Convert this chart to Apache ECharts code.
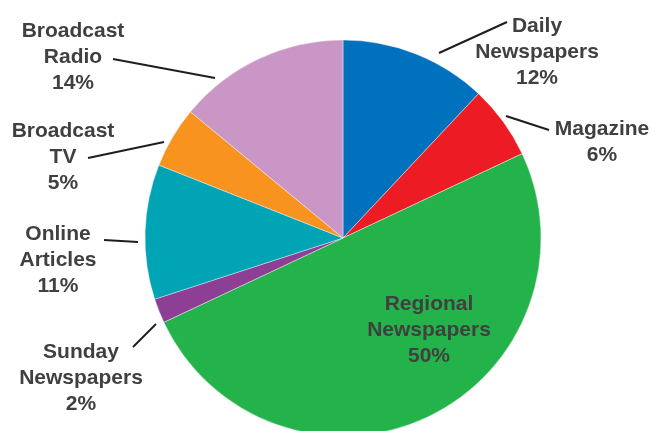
<!DOCTYPE html>
<html>
<head>
<meta charset="utf-8">
<script src="https://cdn.jsdelivr.net/npm/echarts@6/dist/echarts.min.js"></script>
<style>
  html, body { margin: 0; padding: 0; background: #fff; }
  #chart { width: 655px; height: 431px; }
</style>
</head>
<body>
<div id="chart"></div>
<script>
// media share, clockwise from 12 o'clock
const mediaNames = ['Daily\nNewspapers', 'Magazine', 'Regional\nNewspapers', 'Sunday\nNewspapers',
  'Online\nArticles', 'Broadcast\nTV', 'Broadcast\nRadio'];
const mediaShare = [12, 6, 50, 2, 11, 5, 14];
const sliceColors = ['#0071bc', '#ed1c24', '#24b24b', '#8c3f95', '#00a4b4', '#f7931e', '#c996c5'];

// label placement (pixel centre of each text block) and leader lines
const labelCenters = [[537, 52], [602, 142], [429, 330], [81, 378], [58, 260], [63, 157], [73, 57]];
const leaderLines = [
  [[439, 53], [507, 22]],
  [[506, 116], [549, 130]],
  null,
  [[156, 324], [133, 347]],
  [[138, 242], [104, 240]],
  [[164, 142], [88, 158]],
  [[215, 78], [113, 59]]
];

const chart = echarts.init(document.getElementById('chart'));

chart.setOption({
  backgroundColor: '#fff',
  animation: false,
  series: [
    {
      type: 'pie',
      center: [343, 238],
      radius: 198,
      startAngle: 90,
      clockwise: true,
      data: mediaNames.map((n, i) => ({
        name: n,
        value: mediaShare[i],
        itemStyle: {color: sliceColors[i]},
        labelLine: {show: leaderLines[i] != null}
      })),
      itemStyle: {borderColor: '#fff', borderWidth: 0.4},
      label: {
        show: true,
        position: 'outside',
        formatter: (p) => p.name + '\n' + p.value + '%',
        color: '#404040',
        fontFamily: 'Liberation Sans, Arial, sans-serif',
        fontWeight: 'bold',
        fontSize: 21,
        lineHeight: 26,
        align: 'center',
        overflow: 'none',
        width: 200
      },
      labelLine: {
        show: true,
        lineStyle: {color: '#1e1e1e', width: 2}
      },
      labelLayout: function (params) {
        const i = params.dataIndex;
        const out = {
          x: labelCenters[i][0],
          y: labelCenters[i][1],
          align: 'center',
          verticalAlign: 'middle'
        };
        if (leaderLines[i]) out.labelLinePoints = leaderLines[i];
        return out;
      }
    }
  ]
});
</script>
</body>
</html>
